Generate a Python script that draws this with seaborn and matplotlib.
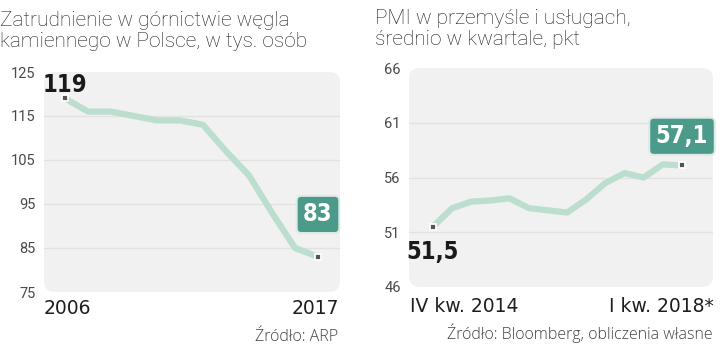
import matplotlib
matplotlib.use("Agg")
import matplotlib.pyplot as plt
from matplotlib.patches import FancyBboxPatch
import seaborn as sns
import pandas as pd

# Employment in hard-coal mining, thousand people
years = [2006, 2007, 2008, 2009, 2010, 2011, 2012, 2013, 2014, 2015, 2016, 2017]
employment = [119, 116, 116, 115, 114, 114, 113, 107, 101.5, 93, 85, 83]
emp_ticks = [75, 85, 95, 105, 115, 125]

# PMI in manufacturing and services, quarterly average
quarters = list(range(14))
pmi = [51.5, 53.2, 53.8, 53.9, 54.1, 53.2, 53.0, 52.8, 54.0, 55.5, 56.4, 56.0, 57.2, 57.1]
pmi_ticks = [46, 51, 56, 61, 66]

left_title = "Zatrudnienie w górnictwie węgla\nkamiennego w Polsce, w tys. osób"
right_title = "PMI w przemyśle i usługach,\nśrednio w kwartale, pkt"
left_first, left_last = "2006", "2017"
right_first, right_last = "IV kw. 2014", "I kw. 2018*"
left_source = "Źródło: ARP"
right_source = "Źródło: Bloomberg, obliczenia własne"

sns.set_theme(style="white")
plt.rcParams["font.family"] = ["Roboto", "DejaVu Sans"]

W, H = 720, 349
LINE = "#bcdecf"
TEAL = "#4c9b8a"
GRID = "#e2e2e2"
PANEL = "#f1f1f1"
TICK = "#4a4a4a"

fig = plt.figure(figsize=(W / 100, H / 100), dpi=100)
fig.patch.set_facecolor("white")


def fx(px):
    return px / W


def fy(py):
    return 1 - py / H


def make_axes(x0, y0, x1, y1):
    ax = fig.add_axes([fx(x0), fy(y1), fx(x1) - fx(x0), fy(y0) - fy(y1)])
    ax.patch.set_visible(False)
    for s in ax.spines.values():
        s.set_visible(False)
    bg = FancyBboxPatch((0, 0), 1, 1, boxstyle="round,pad=0,rounding_size=0.035",
                        transform=ax.transAxes, facecolor=PANEL, edgecolor="none",
                        zorder=0, clip_on=False, mutation_aspect=1.4)
    ax.add_patch(bg)
    return ax


def style_axis(ax, ticks):
    ax.set_yticks(ticks)
    ax.set_yticklabels([str(t) for t in ticks], fontsize=10.5, color=TICK)
    ax.tick_params(axis="y", length=0, pad=6)
    ax.set_xticks([])
    ax.set_xlabel("")
    ax.set_ylabel("")
    for t in ticks[1:-1]:
        ax.axhline(t, color=GRID, lw=1, zorder=1)


def end_marker(ax, x, y):
    ax.scatter([x], [y], marker="s", s=22, color="#555555", edgecolor="white",
               linewidth=1.3, zorder=5)


num_font = dict(family=["DejaVu Sans"], fontstretch="condensed", fontweight="bold")

# ---- left panel: employment ----
axL = make_axes(44, 72, 340, 292)
df_emp = pd.DataFrame({"rok": years, "zatrudnienie": employment})
sns.lineplot(data=df_emp, x="rok", y="zatrudnienie", ax=axL, color=LINE, lw=4.5,
             solid_joinstyle="round", solid_capstyle="round", zorder=3)
axL.set_xlim(years[0] - 21 / 23, years[-1] + 22 / 23)
axL.set_ylim(emp_ticks[0], emp_ticks[-1])
style_axis(axL, emp_ticks)
end_marker(axL, years[0], employment[0])
end_marker(axL, years[-1], employment[-1])
axL.annotate(f"{employment[0]:g}", (years[0], employment[0]), xytext=(0, 9.5),
             textcoords="offset points", ha="center", va="center",
             fontsize=17, color="#1a1a1a", zorder=6, **num_font)
axL.annotate(f"{employment[-1]:g}", (years[-1], employment[-1]), xytext=(0, 30.5),
             textcoords="offset points", ha="center", va="center",
             fontsize=17, color="white", zorder=6, **num_font,
             bbox=dict(boxstyle="round,pad=0.28,rounding_size=0.2", fc=TEAL,
                       ec="#dcebe6", lw=1.5))

# ---- right panel: PMI ----
axR = make_axes(409, 68, 713, 287)
df_pmi = pd.DataFrame({"kwartal": quarters, "pmi": pmi})
sns.lineplot(data=df_pmi, x="kwartal", y="pmi", ax=axR, color=LINE, lw=4.5,
             solid_joinstyle="round", solid_capstyle="round", zorder=3)
step = (682 - 433) / 13
axR.set_xlim(-(433 - 409) / step, 13 + (713 - 682) / step)
axR.set_ylim(pmi_ticks[0], pmi_ticks[-1])
style_axis(axR, pmi_ticks)
end_marker(axR, quarters[0], pmi[0])
end_marker(axR, quarters[-1], pmi[-1])
axR.annotate(f"{pmi[0]:.1f}".replace(".", ","), (quarters[0], pmi[0]), xytext=(0, -18.5),
             textcoords="offset points", ha="center", va="center",
             fontsize=17, color="#1a1a1a", zorder=6, **num_font)
axR.annotate(f"{pmi[-1]:.1f}".replace(".", ","), (quarters[-1], pmi[-1]), xytext=(0, 21),
             textcoords="offset points", ha="center", va="center",
             fontsize=17, color="white", zorder=6, **num_font,
             bbox=dict(boxstyle="round,pad=0.28,rounding_size=0.2", fc=TEAL,
                       ec="#dcebe6", lw=1.5))

# ---- titles, axis end labels, sources ----
title_kw = dict(fontsize=15, color="#1e1e1e", fontweight="light", va="baseline",
                linespacing=1.15, family=["Roboto", "DejaVu Sans"])
fig.text(fx(0), fy(47), left_title, ha="left", **title_kw)
fig.text(fx(375), fy(45), right_title, ha="left", **title_kw)

end_kw = dict(fontsize=13.5, color="#1e1e1e", fontweight="normal", va="center",
              family=["DejaVu Sans"])
fig.text(fx(44), fy(308), left_first, ha="left", **end_kw)
fig.text(fx(339), fy(308), left_last, ha="right", **end_kw)
fig.text(fx(410), fy(306), right_first, ha="left", **end_kw)
fig.text(fx(714), fy(306), right_last, ha="right", **end_kw)

src_kw = dict(fontsize=11.5, color="#444444", fontweight="light", va="center",
              family=["Open Sans", "Roboto", "DejaVu Sans"])
fig.text(fx(338), fy(337), left_source, ha="right", **src_kw)
fig.text(fx(713), fy(333), right_source, ha="right", **src_kw)

fig.savefig("out.png", dpi=100, facecolor="white")
